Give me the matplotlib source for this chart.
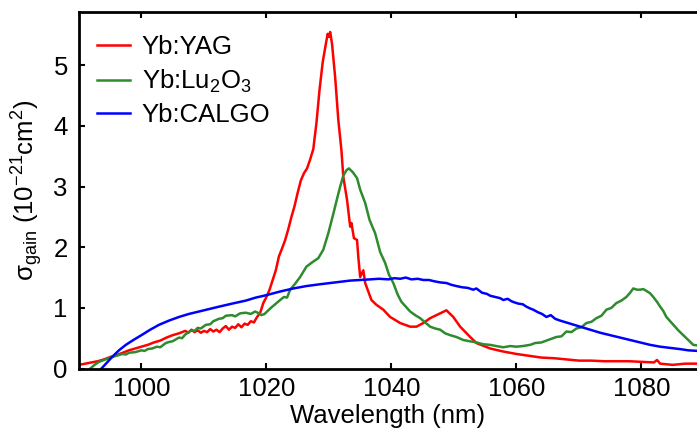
import matplotlib
matplotlib.use("Agg")
import matplotlib.pyplot as plt

plt.rcParams['font.family'] = ['Liberation Sans', 'DejaVu Sans']
plt.rcParams['mathtext.fontset'] = 'custom'
plt.rcParams['mathtext.rm'] = 'Liberation Sans'
plt.rcParams['mathtext.it'] = 'Liberation Sans:italic'

# === Data ===
yag_wl = [990, 991, 992, 993, 994, 995, 996, 997, 998, 999, 1000, 1001, 1002, 1003, 1004, 1005,
          1006, 1007, 1007.5, 1008, 1008.5, 1009, 1009.5, 1010, 1010.5, 1011, 1011.5, 1012, 1012.5,
          1013, 1013.5, 1014, 1014.5, 1015, 1015.5, 1016, 1016.5, 1017, 1017.5, 1018, 1018.5, 1019,
          1019.5, 1020, 1020.5, 1021, 1021.5, 1022, 1022.5, 1023, 1023.5, 1024, 1024.5, 1025, 1025.5,
          1026, 1026.5, 1027, 1027.5, 1028, 1028.5, 1029, 1029.5, 1029.8, 1030, 1030.2, 1030.5, 1031,
          1031.5, 1032, 1032.3, 1032.9, 1033.4, 1033.6, 1034, 1034.5, 1034.7, 1035, 1035.5, 1035.8,
          1036.8, 1037.6, 1038.7, 1039.8, 1041.4, 1043, 1044, 1045.1, 1046.2, 1047.8, 1048.8, 1049.9,
          1051, 1052.6, 1053.6, 1055.8, 1057.9, 1060, 1062, 1064, 1066, 1068, 1070, 1072, 1074,
          1076, 1078, 1080, 1082, 1082.5, 1083, 1085, 1087, 1089]
yag_val = [0.06, 0.08, 0.10, 0.12, 0.15, 0.19, 0.22, 0.26, 0.30, 0.33, 0.36, 0.39, 0.43, 0.46, 0.51, 0.55,
           0.58, 0.62, 0.59, 0.64, 0.60, 0.63, 0.59, 0.62, 0.60, 0.65, 0.61, 0.64, 0.60,
           0.66, 0.70, 0.64, 0.69, 0.67, 0.73, 0.68, 0.74, 0.72, 0.78, 0.76, 0.85, 0.92,
           1.08, 1.18, 1.30, 1.46, 1.62, 1.85, 1.98, 2.12, 2.30, 2.50, 2.68, 2.90, 3.10,
           3.22, 3.30, 3.45, 3.62, 4.05, 4.60, 5.05, 5.35, 5.52, 5.47, 5.55, 5.35, 4.80,
           4.10, 3.60, 3.16, 2.78, 2.34, 2.40, 2.15, 2.12, 1.84, 1.51, 1.62, 1.41,
           1.13, 1.05, 0.97, 0.85, 0.75, 0.69, 0.69, 0.75, 0.83, 0.91, 0.96, 0.85,
           0.69, 0.52, 0.42, 0.33, 0.28, 0.24, 0.21, 0.18, 0.17, 0.15, 0.13, 0.13, 0.12,
           0.12, 0.12, 0.11, 0.10, 0.14, 0.08, 0.06, 0.08, 0.08]

lu_wl = [991.8, 992.5, 993.2, 994, 995, 996, 997, 997.5, 998, 999, 1000, 1000.5, 1001, 1001.7, 1002.5,
         1003, 1003.9, 1004.5, 1005, 1006, 1006.5, 1007, 1008, 1008.5, 1009, 1009.5, 1010.3, 1011,
         1011.5, 1012.4, 1013, 1013.5, 1014.5, 1015, 1015.8, 1016.7, 1017.5, 1018.2, 1018.8, 1019.2,
         1019.7, 1020.6, 1021.4, 1022.2, 1022.8, 1023.3, 1023.8, 1024.6, 1025.4, 1026.4, 1027.3,
         1028.3, 1029.1, 1029.9, 1030.7, 1031.3, 1031.8, 1032.3, 1032.8, 1033.2, 1033.8, 1034.5,
         1035, 1035.8, 1036.5, 1037.4, 1038.2, 1039, 1039.6, 1040.3, 1041, 1041.6, 1042.3, 1043,
         1043.8, 1044.6, 1045.4, 1046.2, 1047, 1047.8, 1048.6, 1049.4, 1050.4, 1051.5, 1052.5,
         1053.6, 1054.7, 1055.8, 1056.8, 1057.9, 1059, 1060, 1061, 1062.2, 1063, 1064, 1064.8,
         1065.6, 1066.4, 1067.2, 1068, 1068.8, 1069.6, 1070.4, 1071.2, 1072, 1072.8, 1073.6, 1074.4,
         1075.2, 1076, 1076.8, 1077.6, 1078.2, 1078.7, 1079.3, 1079.8, 1080.3, 1080.8, 1081.4,
         1081.9, 1082.5, 1083, 1083.5, 1084, 1084.6, 1085.1, 1085.9, 1086.7, 1087.5, 1088.3, 1089]
lu_val = [0.00, 0.06, 0.11, 0.14, 0.18, 0.21, 0.24, 0.23, 0.26, 0.27, 0.30, 0.29, 0.32, 0.33, 0.36,
          0.35, 0.42, 0.44, 0.45, 0.51, 0.50, 0.56, 0.63, 0.62, 0.67, 0.66, 0.72, 0.73,
          0.78, 0.82, 0.83, 0.87, 0.88, 0.86, 0.91, 0.92, 0.90, 0.94, 0.91, 0.88,
          0.90, 0.99, 1.06, 1.13, 1.18, 1.17, 1.30, 1.40, 1.51, 1.68, 1.75,
          1.82, 1.96, 2.23, 2.55, 2.80, 3.00, 3.18, 3.27, 3.30, 3.24, 3.14,
          2.95, 2.73, 2.45, 2.23, 1.92, 1.74, 1.55, 1.41, 1.22, 1.10, 1.02, 0.94,
          0.88, 0.83, 0.76, 0.69, 0.66, 0.64, 0.58, 0.55, 0.52, 0.47, 0.45,
          0.43, 0.40, 0.39, 0.37, 0.35, 0.37, 0.36, 0.37, 0.39, 0.42, 0.43, 0.46,
          0.49, 0.52, 0.53, 0.61, 0.60, 0.66, 0.68, 0.75, 0.77, 0.83, 0.87, 0.97,
          1.00, 1.08, 1.12, 1.18, 1.25, 1.32, 1.30, 1.30, 1.31, 1.28, 1.24,
          1.18, 1.10, 1.02, 0.95, 0.85, 0.78, 0.72, 0.63, 0.55, 0.47, 0.39, 0.38]

calgo_wl = [993.6, 994.5, 995.3, 996.4, 997.5, 998.7, 1000, 1001.4, 1002.8, 1004.4, 1006, 1007.6,
            1009.2, 1010.8, 1012.4, 1014.5, 1016.7, 1018.3, 1020, 1022.2, 1024.3, 1026.4, 1028.6,
            1030.2, 1031.8, 1033.4, 1035, 1036.6, 1038, 1039.5, 1040.5, 1041.4, 1042.3, 1043.2,
            1044.2, 1045.1, 1046, 1046.8, 1047.8, 1048.8, 1049.6, 1050.4, 1051.3, 1052.2, 1053.1,
            1053.6, 1054.5, 1055.3, 1055.8, 1056.6, 1057.4, 1057.9, 1058.6, 1059.2, 1059.7, 1060.3,
            1061, 1061.6, 1062.2, 1062.7, 1063.4, 1064.1, 1064.8, 1065.5, 1066.2, 1067, 1068.6,
            1070.2, 1071.8, 1073.4, 1075, 1076.6, 1078.2, 1079.8, 1081.4, 1083, 1084.6, 1086.2,
            1087.5, 1089]
calgo_val = [0.00, 0.10, 0.19, 0.30, 0.39, 0.47, 0.55, 0.64, 0.72, 0.79, 0.85, 0.90,
             0.94, 0.98, 1.02, 1.07, 1.12, 1.17, 1.21, 1.27, 1.32, 1.36, 1.39,
             1.41, 1.43, 1.45, 1.46, 1.47, 1.48, 1.47, 1.49, 1.48, 1.50, 1.47,
             1.48, 1.46, 1.46, 1.44, 1.42, 1.41, 1.38, 1.36, 1.34, 1.33, 1.30,
             1.32, 1.25, 1.23, 1.20, 1.18, 1.16, 1.13, 1.15, 1.11, 1.09, 1.07,
             1.06, 1.02, 0.99, 0.97, 0.93, 0.90, 0.85, 0.88, 0.82, 0.79, 0.74,
             0.69, 0.64, 0.59, 0.55, 0.51, 0.47, 0.43, 0.39, 0.36, 0.34, 0.32,
             0.30, 0.29]

# === Plot ===
fs = 18.5
fig = plt.figure(figsize=(6.97, 4.36), dpi=100)
ax = fig.add_axes([0.1133, 0.1548, 0.8867, 0.8177])

ax.plot(yag_wl, yag_val, color='#ff0000', lw=1.8, label='Yb:YAG')
ax.plot(lu_wl, lu_val, color='#2e8b2e', lw=1.8, label='Yb:Lu$_2$O$_3$')
ax.plot(calgo_wl, calgo_val, color='#0000ff', lw=1.8, label='Yb:CALGO')

ax.set_xlim(990, 1088.9)
ax.set_ylim(0, 5.88)
ax.set_xticks([1000, 1020, 1040, 1060, 1080])
ax.set_yticks([0, 1, 2, 3, 4, 5])

for side in ['left', 'bottom', 'top']:
    ax.spines[side].set_linewidth(2)
ax.spines['right'].set_visible(False)
ax.tick_params(direction='in', length=4, width=1.5, labelsize=fs, top=True, right=False)
ax.tick_params(axis='y', pad=8)
ax.tick_params(axis='x', pad=6)

ax.set_xlabel('Wavelength (nm)', fontsize=fs, labelpad=2)
ax.set_ylabel('σ$_{\\rm gain}$ (10$^{-21}$cm$^2$)', fontsize=fs, labelpad=6)

ax.legend(loc='upper left', bbox_to_anchor=(0.0, 0.985), frameon=False, fontsize=fs,
          handlelength=1.3, handletextpad=0.45, labelspacing=0.32, borderaxespad=0.3)

fig.savefig('out.png', dpi=100)
